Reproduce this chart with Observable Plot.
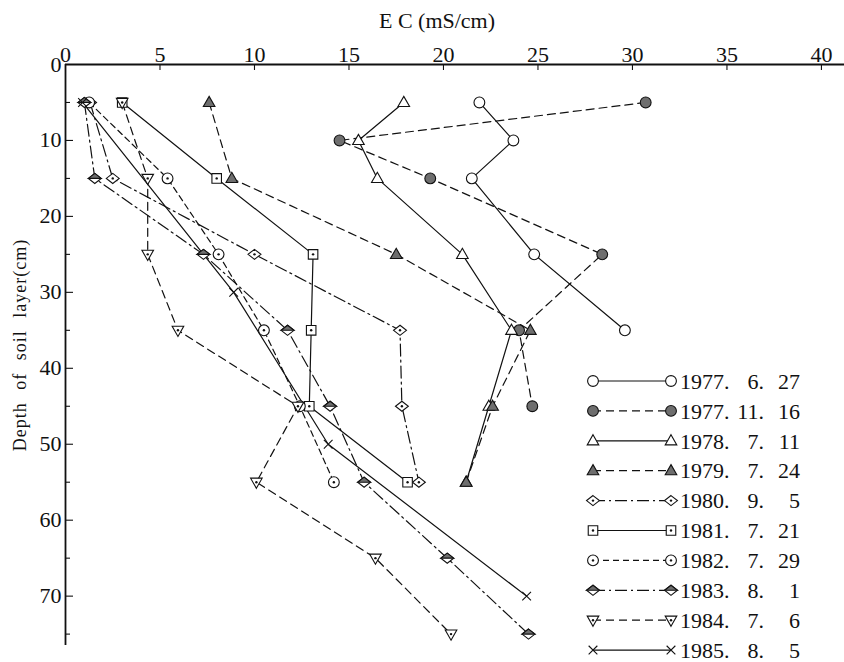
<!DOCTYPE html>
<html><head><meta charset="utf-8">
<script src="https://cdn.jsdelivr.net/npm/d3@7"></script>
<script src="https://cdn.jsdelivr.net/npm/@observablehq/plot@0.6"></script>
<style>
html,body{margin:0;padding:0;background:#fff;}
#wrap{position:relative;width:844px;height:662px;overflow:hidden;}
#wrap svg{position:absolute;left:0;top:0;}
#wrap g[aria-label$="tick label"] text, #wrap g[aria-label$="tick label"]{font-size:22px !important;}
</style></head><body><div id="wrap"></div>
<script>
// ---- data ----
const seriesNames = ["1977.6.27","1977.11.16","1978.7.11","1979.7.24","1980.9.5","1981.7.21","1982.7.29","1983.8.1","1984.7.6","1985.8.5"];
const legendYear  = ["1977.","1977.","1978.","1979.","1980.","1981.","1982.","1983.","1984.","1985."];
const legendMonth = ["6.","11.","7.","7.","9.","7.","7.","8.","7.","8."];
const legendDay   = ["27","16","11","24","5","21","29","1","6","5"];

const depth770627 = [5,10,15,25,35];
const ec770627    = [21.9,23.7,21.5,24.8,29.6];
const depth771116 = [5,10,15,25,35,45];
const ec771116    = [30.7,14.5,19.3,28.4,24.0,24.7];
const depth780711 = [5,10,15,25,35,45,55];
const ec780711    = [17.9,15.5,16.5,21.0,23.6,22.4,21.2];
const depth790724 = [5,15,25,35,45,55];
const ec790724    = [7.6,8.8,17.5,24.6,22.6,21.2];
const depth800905 = [5,15,25,35,45,55];
const ec800905    = [1.3,2.5,10.0,17.7,17.8,18.7];
const depth810721 = [5,15,25,35,45,55];
const ec810721    = [3.0,8.0,13.1,13.0,12.9,18.1];
const depth820729 = [5,15,25,35,45,55];
const ec820729    = [1.25,5.4,8.1,10.5,12.4,14.2];
const depth830801 = [5,15,25,35,45,55,65,75];
const ec830801    = [1.0,1.55,7.3,11.75,14.0,15.8,20.2,24.5];
const depth840706 = [5,15,25,35,45,55,65,75];
const ec840706    = [3.0,4.35,4.35,5.95,12.3,10.1,16.4,20.4];
const depth850805 = [5,30,50,70];
const ec850805    = [0.9,8.9,13.9,24.4];

const xTicks = [0,5,10,15,20,25,30,35,40];
const yTicks = [0,10,20,30,40,50,60,70];
const yMinor = [5,15,25,35,45,55,65,75];

// ---- build table ----
const depthArrays = [depth770627,depth771116,depth780711,depth790724,depth800905,depth810721,depth820729,depth830801,depth840706,depth850805];
const ecArrays = [ec770627,ec771116,ec780711,ec790724,ec800905,ec810721,ec820729,ec830801,ec840706,ec850805];
const table = seriesNames.map((name,i)=>depthArrays[i].map((d,j)=>({series:name, depth:d, ec:ecArrays[i][j]})));

// ---- symbols ----
const R = s => Math.sqrt(s/Math.PI);
const sym = {
  circle:{draw(c,s){const r=R(s);c.moveTo(r,0);c.arc(0,0,r,0,2*Math.PI);}},
  triUp:{draw(c,s){const r=R(s);c.moveTo(0,-r*1.05);c.lineTo(r*1.0,r*0.7);c.lineTo(-r*1.0,r*0.7);c.closePath();}},
  triDown:{draw(c,s){const r=R(s);c.moveTo(0,r*1.05);c.lineTo(r*1.0,-r*0.7);c.lineTo(-r*1.0,-r*0.7);c.closePath();}},
  diamond:{draw(c,s){const r=R(s);c.moveTo(0,-r*0.9);c.lineTo(r*1.15,0);c.lineTo(0,r*0.9);c.lineTo(-r*1.15,0);c.closePath();}},
  halfDiamond:{draw(c,s){const r=R(s);c.moveTo(0,-r*0.9);c.lineTo(r*1.15,0);c.lineTo(-r*1.15,0);c.closePath();}},
  square:{draw(c,s){const r=R(s)*0.85;c.moveTo(-r,-r);c.lineTo(r,-r);c.lineTo(r,r);c.lineTo(-r,r);c.closePath();}},
  times:{draw(c,s){const r=R(s)*0.75;c.moveTo(-r,-r);c.lineTo(r,r);c.moveTo(r,-r);c.lineTo(-r,r);}}
};
const GRAY = "#6e6e6e";
const styles = [
  {dash:null, layers:[[sym.circle,"white",5.4]], dot:false},
  {dash:"8,5", layers:[[sym.circle,GRAY,5.4]], dot:false},
  {dash:null, layers:[[sym.triUp,"white",5.8]], dot:false},
  {dash:"8,5", layers:[[sym.triUp,GRAY,5.8]], dot:false},
  {dash:"12,4,2,4", layers:[[sym.diamond,"white",5.6]], dot:true},
  {dash:null, layers:[[sym.square,"white",5.6]], dot:true},
  {dash:"6,4", layers:[[sym.circle,"white",5.4]], dot:true},
  {dash:"12,4,2,4", layers:[[sym.diamond,"white",5.6],[sym.halfDiamond,GRAY,5.6]], dot:false},
  {dash:"8,5", layers:[[sym.triDown,"white",5.8]], dot:true},
  {dash:null, layers:[[sym.times,"none",5.8]], dot:false}
];

const lineMarks = table.map((rows,i)=>Plot.line(rows,{x:"ec",y:"depth",stroke:"#111",strokeWidth:1.2,strokeDasharray:styles[i].dash}));
const dotMarks = table.flatMap((rows,i)=>{
  const out = styles[i].layers.map(([s,f,r])=>Plot.dot(rows,{x:"ec",y:"depth",symbol:s,r:r,fill:f,stroke:"#111",strokeWidth:1.1}));
  if (styles[i].dot) out.push(Plot.dot(rows,{x:"ec",y:"depth",r:1.2,fill:"#111",stroke:"none"}));
  return out;
});

const chart = Plot.plot({
  width:844, height:662,
  marginLeft:65, marginTop:64, marginRight:0, marginBottom:17,
  x:{domain:[0,41.22], axis:null},
  y:{domain:[0,76.5], reverse:true, axis:null},
  style:{fontFamily:"'Liberation Serif', serif", fontSize:"22px", color:"#111", background:"white"},
  marks:[
    Plot.axisX({anchor:"top", ticks:xTicks, tickSize:0, tickPadding:3, label:null, fontSize:22, tickFormat:d=>String(d)}),
    Plot.axisY({anchor:"left", ticks:yTicks, tickSize:0, tickPadding:4, label:null, fontSize:22, tickFormat:d=>String(d)}),
    Plot.ruleX(xTicks.slice(1),{y1:0,y2:0,insetBottom:-6,stroke:"#111",strokeWidth:1.1}),
    Plot.ruleY(yTicks.slice(1),{x1:0,x2:0,insetRight:-8,stroke:"#111",strokeWidth:1.1}),
    Plot.ruleY(yMinor,{x1:0,x2:0,insetRight:-5,stroke:"#111",strokeWidth:1.1}),
    Plot.ruleX([0],{stroke:"#111",strokeWidth:1.8}),
    Plot.ruleY([0],{stroke:"#111",strokeWidth:1.8}),
    ...lineMarks,
    ...dotMarks
  ]
});
const wrap = document.getElementById("wrap");
wrap.appendChild(chart);
// enforce tick label size
d3.select(chart).selectAll('g[aria-label$="tick label"]').attr("font-size",22).style("font-size","22px");

// ---- overlay: titles & legend ----
const ov = d3.select(wrap).append("svg").attr("width",844).attr("height",662)
  .style("font-family","'Liberation Serif', serif").attr("fill","#111");
ov.append("text").attr("x",437).attr("y",20).attr("text-anchor","middle").attr("dy","0.35em")
  .attr("font-size",22).text("E  C (mS/cm)");
ov.append("text").attr("transform","translate(20,345) rotate(-90)").attr("text-anchor","middle").attr("dy","0.35em")
  .attr("font-size",18).attr("letter-spacing","1px").attr("word-spacing","7px").text("Depth of soil layer(cm)");

const lg = ov.append("g");
seriesNames.forEach((name,i)=>{
  const y = 381 + i*29.9;
  const st = styles[i];
  lg.append("line").attr("x1",593).attr("x2",671).attr("y1",y).attr("y2",y)
    .attr("stroke","#111").attr("stroke-width",1.2).attr("stroke-dasharray",st.dash);
  [593,671].forEach(x=>{
    st.layers.forEach(([s,f,r])=>{
      lg.append("path").attr("transform",`translate(${x},${y})`).attr("d",d3.symbol(s,Math.PI*r*r)())
        .attr("fill",f).attr("stroke","#111").attr("stroke-width",1.1);
    });
    if (st.dot) lg.append("circle").attr("cx",x).attr("cy",y).attr("r",1.2).attr("fill","#111");
  });
  lg.append("text").attr("x",680).attr("y",y).attr("dy","0.35em").attr("font-size",22).text(legendYear[i]);
  lg.append("text").attr("x",764).attr("y",y).attr("dy","0.35em").attr("font-size",22).attr("text-anchor","end").text(legendMonth[i]);
  lg.append("text").attr("x",800).attr("y",y).attr("dy","0.35em").attr("font-size",22).attr("text-anchor","end").text(legendDay[i]);
});
</script></body></html>
